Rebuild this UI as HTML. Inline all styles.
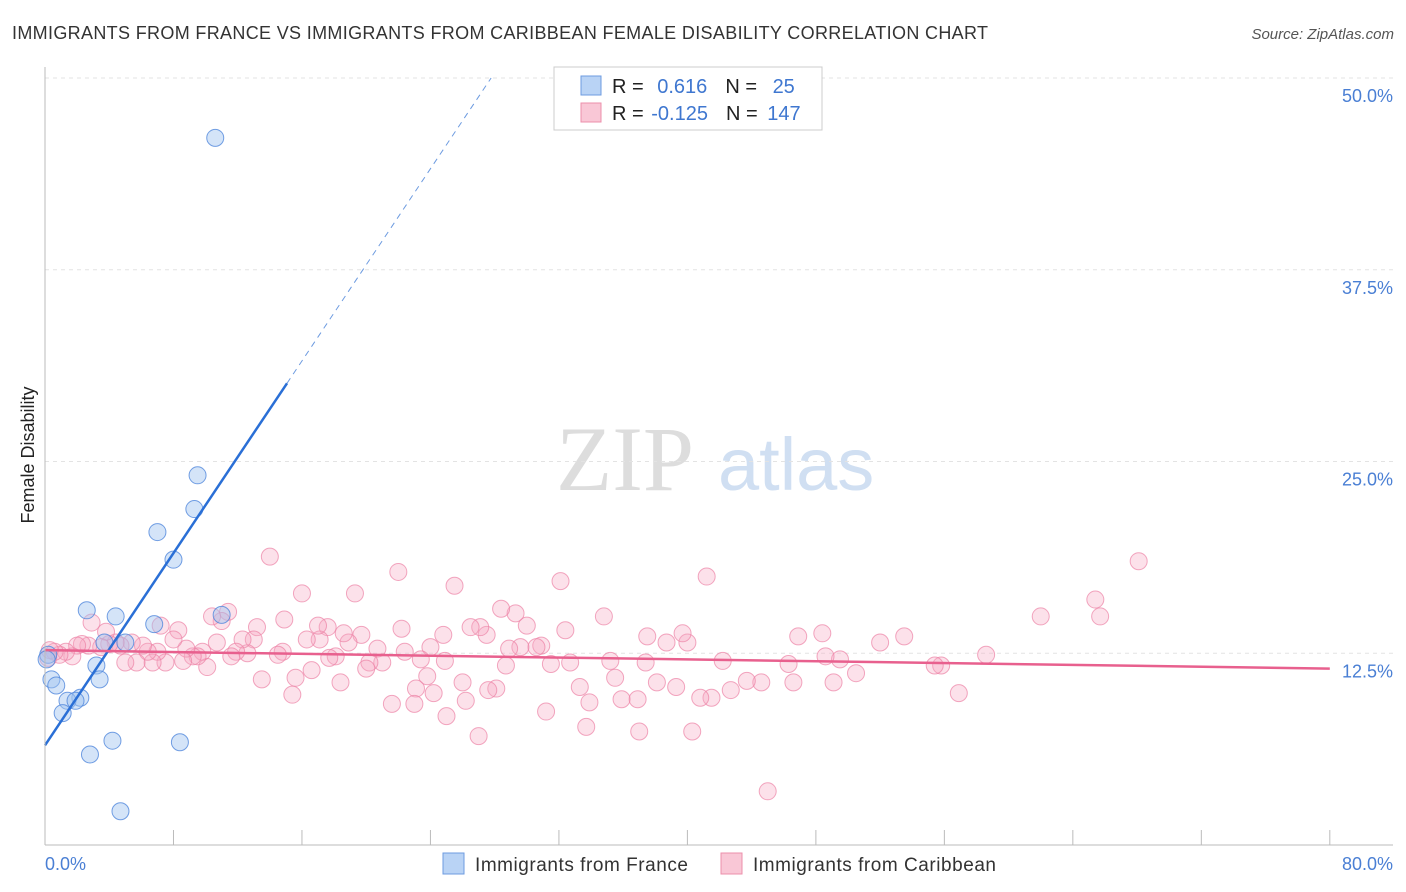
<!DOCTYPE html>
<html><head><meta charset="utf-8"><style>
body{margin:0;background:#fff;font-family:"Liberation Sans",sans-serif;}
svg{display:block}
</style></head><body>
<svg id="chart" width="1406" height="892">
<text x="12" y="39" font-size="18" fill="#333" textLength="976">IMMIGRANTS FROM FRANCE VS IMMIGRANTS FROM CARIBBEAN FEMALE DISABILITY CORRELATION CHART</text>
<text x="1394" y="39" font-size="15" fill="#555" font-style="italic" text-anchor="end">Source: ZipAtlas.com</text>
<text x="556" y="490" font-size="92" fill="#ddd" font-family="Liberation Serif,serif">ZIP</text>
<text x="718" y="490" font-size="74" fill="#d0dff2">atlas</text>
<text transform="translate(34,455) rotate(-90)" font-size="18" fill="#222" text-anchor="middle">Female Disability</text>
<g id="grid"></g><g id="pts"></g><g id="lines"></g>
<line x1="45" y1="67" x2="45" y2="845" stroke="#bbb"/>
<line x1="45" y1="845" x2="1393" y2="845" stroke="#bbb"/>
<text x="45" y="870" font-size="18" fill="#4a7fd4">0.0%</text>
<text x="1393" y="870" font-size="18" fill="#4a7fd4" text-anchor="end">80.0%</text>
<g>
<rect x="554" y="67" width="268" height="63" fill="#fff" stroke="#ccc"/>
<rect x="581" y="76" width="20" height="19" fill="#b9d3f5" stroke="#6d9be0"/>
<rect x="581" y="103" width="20" height="19" fill="#f9c7d6" stroke="#ec8fab"/>
<text x="612" y="93" font-size="20" fill="#222">R = <tspan fill="#3f77d0" dx="8">0.616</tspan><tspan dx="18" fill="#222">N = </tspan><tspan dx="10" fill="#3f77d0">25</tspan></text>
<text x="612" y="120" font-size="20" fill="#222">R = <tspan fill="#3f77d0" dx="2">-0.125</tspan><tspan dx="18" fill="#222">N = </tspan><tspan dx="4" fill="#3f77d0">147</tspan></text>
</g>
<g>
<rect x="443" y="853" width="21" height="21" fill="#b9d3f5" stroke="#6d9be0"/>
<text x="475" y="871" font-size="19" fill="#333" textLength="213">Immigrants from France</text>
<rect x="721" y="853" width="21" height="21" fill="#f9c7d6" stroke="#ec8fab"/>
<text x="753" y="871" font-size="19" fill="#333" textLength="243">Immigrants from Caribbean</text>
</g>
</svg>
<script>
const yTicks=[50,37.5,25,12.5];
const franceX=[10.6,9.5,9.3,7.0,8.0,2.6,4.4,6.8,11.0,3.7,5.0,0.2,0.4,0.7,3.2,3.4,2.2,1.4,1.9,1.1,4.2,8.4,2.8,4.7,0.1];
const franceY=[46.1,24.1,21.9,20.4,18.6,15.3,14.9,14.4,15.0,13.2,13.2,12.4,10.8,10.4,11.7,10.8,9.6,9.4,9.4,8.6,6.8,6.7,5.9,2.2,12.1];
const caribX=[68.1,65.4,65.7,62.0,58.6,56.9,55.8,55.4,53.5,52.0,50.5,49.5,48.6,49.1,48.4,46.9,46.3,46.6,45.0,44.6,43.7,42.7,42.2,41.2,41.5,40.8,40.3,40.0,39.7,39.3,38.7,38.1,37.5,37.4,37.0,36.9,35.9,35.5,35.2,34.8,33.9,33.7,33.3,32.7,32.4,32.1,31.5,31.2,30.9,30.6,30.0,29.6,29.3,28.9,28.7,28.4,28.1,27.6,27.5,27.1,26.5,27.0,26.2,26.0,25.5,24.9,24.8,25.0,24.2,24.0,23.8,23.1,23.0,23.4,22.2,22.0,22.4,21.6,20.7,21.0,20.2,20.0,19.7,19.3,18.9,18.6,18.4,18.1,17.7,17.6,17.1,17.0,16.6,16.3,16.0,15.6,15.4,14.9,14.8,14.5,14.0,13.5,13.2,13.0,12.6,12.3,11.9,11.6,11.4,11.0,10.7,10.4,10.1,9.8,9.5,9.2,8.8,8.6,8.3,8.0,7.5,7.2,7.0,6.7,6.4,6.1,5.7,5.4,5.0,4.7,4.4,4.0,3.8,3.5,2.9,2.7,2.3,2.0,1.7,1.3,0.9,0.6,0.3,0.2];
const caribY=[18.5,16.0,14.9,14.9,12.4,9.9,11.7,11.7,13.6,13.2,11.2,12.1,12.3,10.6,13.8,13.6,11.8,10.6,3.5,10.6,10.7,10.1,12.0,17.5,9.6,9.6,7.4,13.2,13.8,10.3,13.2,10.6,13.6,11.9,7.4,9.5,9.5,10.9,12.0,14.9,9.3,7.7,10.3,11.9,14.0,17.2,11.8,8.7,13.0,12.9,14.3,12.9,15.1,12.8,11.7,15.4,10.2,10.1,13.7,14.2,14.2,7.1,9.4,10.6,16.9,12.0,13.7,8.4,9.9,12.9,11.0,10.2,9.2,12.1,14.1,17.8,12.6,9.2,12.8,11.9,11.9,11.5,13.7,16.4,13.2,13.8,10.6,12.3,12.2,14.2,13.4,14.3,11.4,13.4,16.4,10.9,9.8,14.7,12.6,12.4,18.8,10.8,14.2,13.4,12.5,13.4,12.6,12.3,15.2,14.6,13.2,14.9,11.6,12.6,12.3,12.3,12.8,12.0,14.0,13.4,11.9,14.3,12.6,11.9,12.6,13.0,11.9,13.2,11.9,13.0,13.2,13.1,13.9,12.9,14.5,13.0,13.1,13.0,12.3,12.6,12.4,12.6,12.7,12.2];
const franceTrend=[6.5,1.566];
const caribTrend=[12.7,-0.015];
const xS=v=>45+v*16.06, yS=v=>845-v*15.34;
const NS='http://www.w3.org/2000/svg';
function mk(t,a,p){const e=document.createElementNS(NS,t);for(const k in a)e.setAttribute(k,a[k]);p.appendChild(e);return e;}
const grid=document.getElementById('grid');
yTicks.forEach(t=>{
 const l=mk('line',{x1:45,x2:1393,y1:yS(t),y2:yS(t),stroke:'#e3e3e3','stroke-dasharray':'4,4'},grid);
 
 
 const tx=mk('text',{x:1393,y:yS(t)+24,'font-size':18,fill:'#4a7fd4','text-anchor':'end'},grid);
 tx.textContent=t.toFixed(1)+'%';
 
 
});
for(let i=0;i<=10;i++){
 const l=mk('line',{x1:xS(i*8),x2:xS(i*8),y1:830,y2:845,stroke:'#bbb'},grid);
 
 
}
const pts=document.getElementById('pts');
caribX.forEach((x,i)=>{
 const c=mk('circle',{cx:xS(x),cy:yS(caribY[i]),r:8.5,fill:'rgba(246,170,195,0.35)',stroke:'rgba(236,130,165,0.7)','stroke-width':1},pts);
 
 
});
franceX.forEach((x,i)=>{
 const c=mk('circle',{cx:xS(x),cy:yS(franceY[i]),r:8.5,fill:'rgba(160,195,240,0.45)',stroke:'rgba(80,135,220,0.8)','stroke-width':1},pts);
 
 
});
const lines=document.getElementById('lines');
const fy=x=>franceTrend[0]+franceTrend[1]*x;
const xEnd=(50-franceTrend[0])/franceTrend[1];
let l1=mk('line',{x1:xS(0),y1:yS(fy(0)),x2:xS(15.07),y2:yS(fy(15.07)),stroke:'#2a6fd6','stroke-width':2.5},lines);


let l2=mk('line',{x1:xS(15.07),y1:yS(fy(15.07)),x2:xS(xEnd),y2:yS(50),stroke:'#6d9be0','stroke-width':1,'stroke-dasharray':'6,5'},lines);


const cy=x=>caribTrend[0]+caribTrend[1]*x;
let l3=mk('line',{x1:xS(0),y1:yS(cy(0)),x2:xS(80),y2:yS(cy(80)),stroke:'#e8608e','stroke-width':2.5},lines);


</script>
</body></html>
